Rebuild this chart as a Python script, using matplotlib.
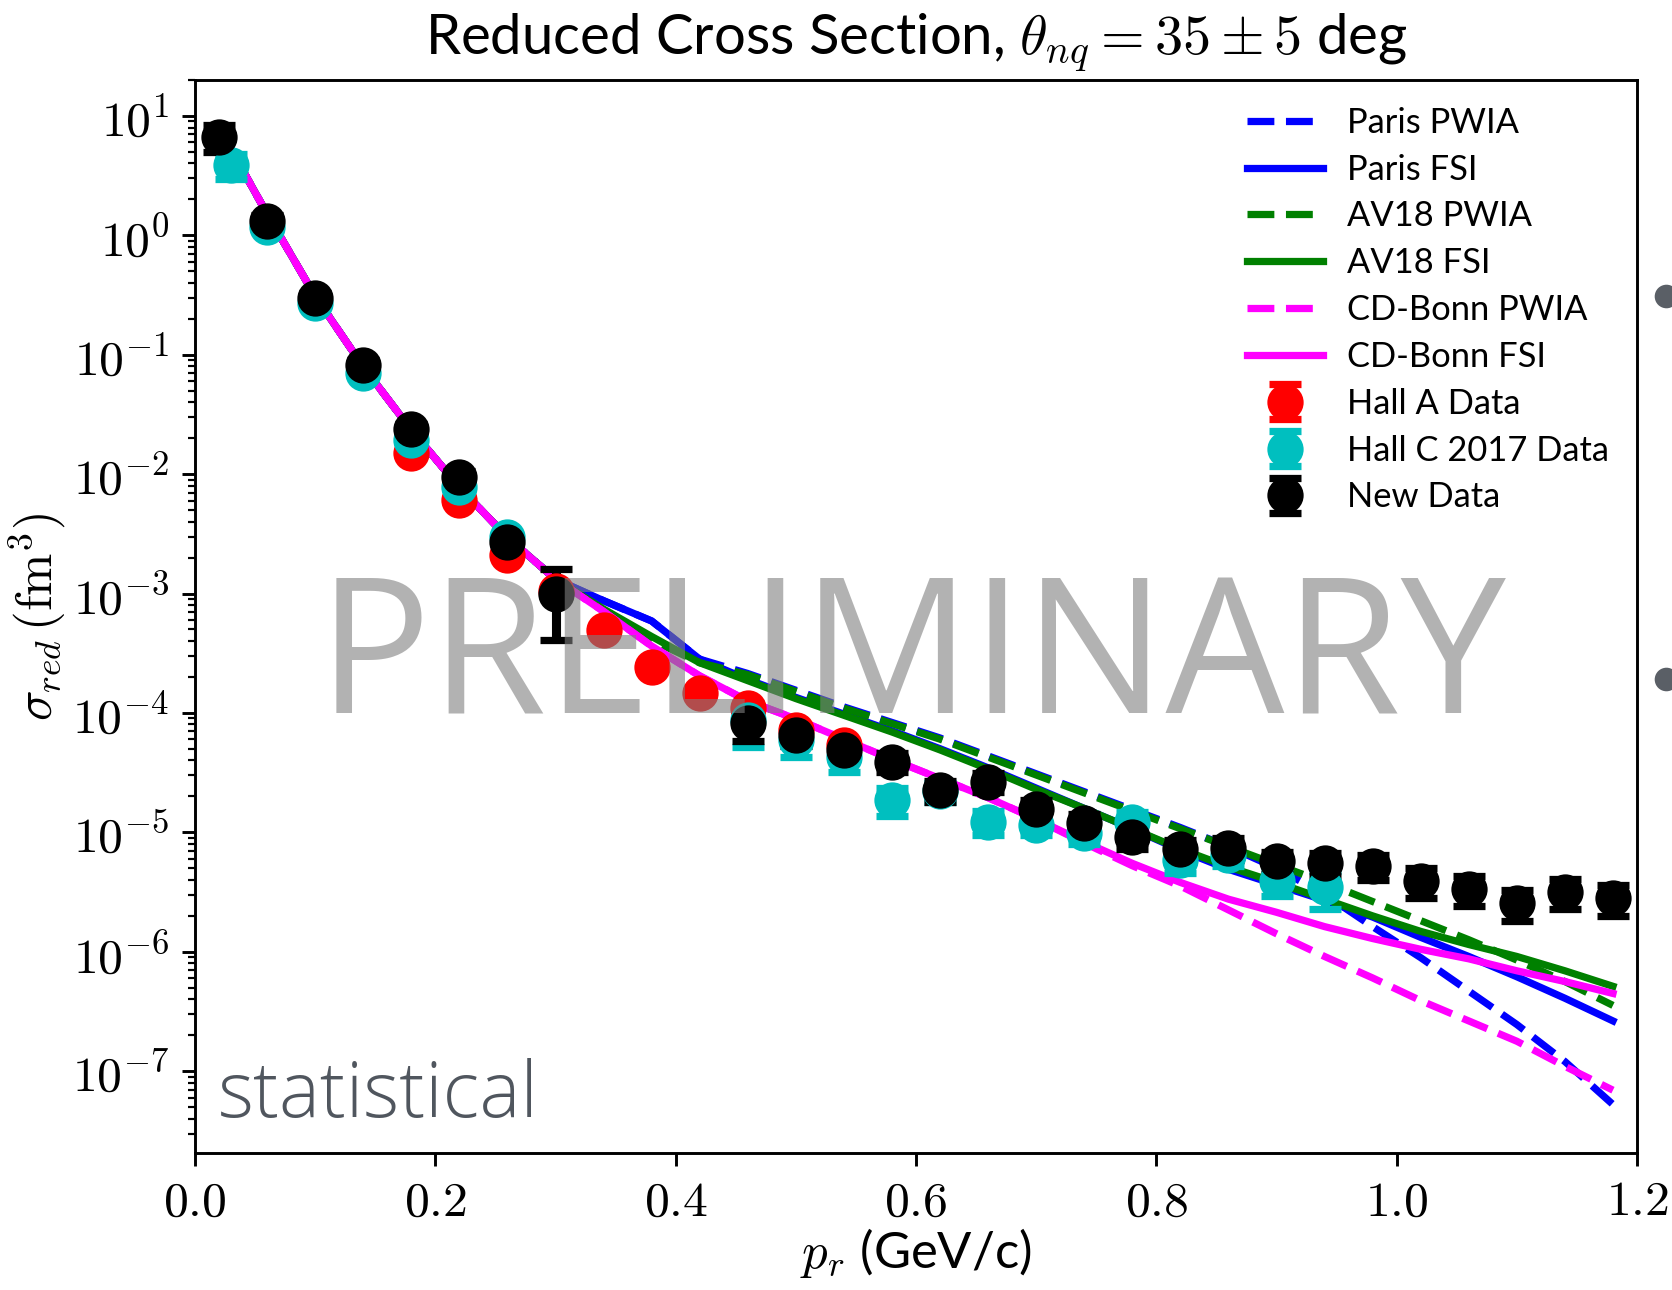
from matplotlib import pyplot as plt
from matplotlib.ticker import FuncFormatter, LogLocator, NullFormatter
from matplotlib.lines import Line2D
import numpy as np

plt.rcParams.update({'font.family': 'Lato', 'mathtext.fontset': 'cm', 'font.size': 14})

# theory curves: log10(sigma_red)
x_th = [0.02, 0.06, 0.10, 0.14, 0.18, 0.22, 0.26, 0.30, 0.34, 0.38, 0.42, 0.46, 0.50,
        0.54, 0.58, 0.62, 0.66, 0.70, 0.74, 0.78, 0.82, 0.86, 0.90, 0.94, 0.98, 1.02,
        1.06, 1.10, 1.14, 1.18]
low = [0.90, 0.18, -0.51, -1.10, -1.63, -2.11, -2.53, -2.88]
paris_pwia = low + [-3.06, -3.23, -3.55, -3.67, -3.81, -3.95, -4.08, -4.21, -4.36, -4.51, -4.66,
                    -4.81, -4.96, -5.12, -5.30, -5.52, -5.79, -6.05, -6.33, -6.61, -6.92, -7.28]
paris_fsi = low + [-3.06, -3.23, -3.55, -3.72, -3.87, -4.01, -4.15, -4.30, -4.46, -4.63, -4.80,
                   -4.97, -5.15, -5.31, -5.44, -5.57, -5.71, -5.88, -6.04, -6.21, -6.39, -6.58]
av18_pwia = low + [-3.14, -3.39, -3.58, -3.68, -3.82, -3.96, -4.09, -4.22, -4.37, -4.52, -4.67,
                   -4.82, -4.97, -5.12, -5.27, -5.42, -5.58, -5.74, -5.90, -6.07, -6.25, -6.45]
av18_fsi = low + [-3.13, -3.36, -3.58, -3.73, -3.88, -4.02, -4.16, -4.31, -4.47, -4.64, -4.80,
                  -4.97, -5.14, -5.29, -5.42, -5.56, -5.70, -5.83, -5.94, -6.04, -6.16, -6.29]
cdb_pwia = low + [-3.15, -3.44, -3.69, -3.90, -4.05, -4.22, -4.39, -4.55, -4.71, -4.89, -5.09,
                  -5.28, -5.45, -5.65, -5.85, -6.04, -6.22, -6.41, -6.58, -6.75, -6.96, -7.16]
cdb_fsi = low + [-3.15, -3.44, -3.69, -3.90, -4.05, -4.22, -4.39, -4.55, -4.71, -4.89, -5.08,
                 -5.26, -5.42, -5.56, -5.67, -5.79, -5.89, -5.98, -6.06, -6.16, -6.25, -6.35]

# data
halla_x = [0.18, 0.22, 0.26, 0.30, 0.34, 0.38, 0.42, 0.46, 0.50, 0.54]
halla_y = [0.0150, 0.00608, 0.0021, 1.05e-3, 4.9e-4, 2.44e-4, 1.46e-4, 1.09e-4, 7.2e-5, 5.4e-5]
halla_err = [0.0007, 0.0003, 0.0001, 5e-5, 2.5e-5, 1.2e-5, 8e-6, 6e-6, 4e-6, 3e-6]

hallc_x = [0.03, 0.06, 0.10, 0.14, 0.18, 0.22, 0.26, 0.46, 0.50, 0.54, 0.58, 0.62, 0.66, 0.70,
           0.74, 0.78, 0.82, 0.86, 0.90, 0.94]
hallc_y = [3.89, 1.18, 0.27, 0.070, 0.0193, 0.00787, 0.0030, 8.7e-5, 5.9e-5, 4.3e-5, 1.87e-5,
           2.2e-5, 1.23e-5, 1.15e-5, 9.8e-6, 1.23e-5, 5.9e-6, 6.5e-6, 3.9e-6, 3.5e-6]
hallc_err = [0.95, 0.05, 0.01, 0.003, 0.0009, 0.0004, 0.00015, 3.5e-5, 1.66e-5, 1.07e-5, 5e-6,
             4e-6, 2.8e-6, 2e-6, 1.8e-6, 2.5e-6, 1.3e-6, 1.3e-6, 1.0e-6, 1.2e-6]

new_x = [0.02, 0.06, 0.10, 0.14, 0.18, 0.22, 0.26, 0.30, 0.46, 0.50, 0.54, 0.58, 0.62, 0.66,
         0.70, 0.74, 0.78, 0.82, 0.86, 0.90, 0.94, 0.98, 1.02, 1.06, 1.10, 1.14, 1.18]
new_y = [6.7, 1.33, 0.297, 0.0822, 0.0238, 0.00953, 0.00272, 1.0e-3, 8.2e-5, 6.5e-5, 4.9e-5,
         3.9e-5, 2.26e-5, 2.66e-5, 1.58e-5, 1.19e-5, 9.1e-6, 7.2e-6, 7.4e-6, 5.7e-6, 5.5e-6,
         5.2e-6, 3.92e-6, 3.36e-6, 2.55e-6, 3.19e-6, 2.8e-6]
new_err = [1.7, 0.15, 0.03, 0.008, 0.0025, 0.001, 0.0003, 5.9e-4, 2.4e-5, 1.2e-5, 9e-6, 7e-6,
           4.5e-6, 5e-6, 3e-6, 2.4e-6, 1.8e-6, 1.5e-6, 1.5e-6, 1.2e-6, 1.2e-6, 1.2e-6, 1.1e-6,
           0.95e-6, 0.75e-6, 0.9e-6, 0.8e-6]

fig = plt.figure(figsize=(6.4, 1290 / 261.25), dpi=261.25)
ax = fig.add_axes([195 / 1672, 1 - 1153 / 1290, 1442 / 1672, 1073 / 1290])

xt = np.array(x_th)
ax.plot(xt, 10 ** np.array(paris_pwia), '--', color='blue', lw=2, label='Paris PWIA')
ax.plot(xt, 10 ** np.array(paris_fsi), '-', color='blue', lw=2, label='Paris FSI')
ax.plot(xt, 10 ** np.array(av18_pwia), '--', color='green', lw=2, label='AV18 PWIA')
ax.plot(xt, 10 ** np.array(av18_fsi), '-', color='green', lw=2, label='AV18 FSI')
ax.plot(xt, 10 ** np.array(cdb_pwia), '--', color='magenta', lw=2, label='CD-Bonn PWIA')
ax.plot(xt, 10 ** np.array(cdb_fsi), '-', color='magenta', lw=2, label='CD-Bonn FSI')

eb = dict(fmt='o', ms=9, capsize=4.5, capthick=2, elinewidth=2.5)
ax.errorbar(halla_x, halla_y, yerr=halla_err, color='red', label='Hall A Data', **eb)
ax.errorbar(hallc_x, hallc_y, yerr=hallc_err, color='c', label='Hall C 2017 Data', **eb)
ax.errorbar(new_x, new_y, yerr=new_err, color='black', label='New Data', **eb)

ax.set_yscale('log')
ax.set_xlim(0, 1.2)
ax.set_ylim(2.06e-8, 20)
ax.set_xticks([0.0, 0.2, 0.4, 0.6, 0.8, 1.0, 1.2])
ax.xaxis.set_major_formatter(FuncFormatter(lambda v, p: r'$%.1f$' % v))
ax.yaxis.set_major_locator(LogLocator(base=10, numticks=20))
ax.yaxis.set_minor_locator(LogLocator(base=10, subs=range(2, 10), numticks=20))
ax.yaxis.set_minor_formatter(NullFormatter())
ax.yaxis.set_major_formatter(FuncFormatter(lambda v, p: r'$10^{%d}$' % round(np.log10(v))))
ax.tick_params(labelsize=13.7)

ax.set_title(r'Reduced Cross Section, $\theta_{nq} = 35 \pm 5$ deg', fontsize=15.5, pad=7)
ax.set_xlabel(r'$p_r$ (GeV/c)', fontsize=14, labelpad=0.5)
ax.set_ylabel(r'$\sigma_{red}\,(\mathrm{fm}^3)$', fontsize=14, labelpad=1)

ax.legend(loc='upper left', bbox_to_anchor=(0.7295, 0.975), frameon=False, fontsize=9.5,
          borderpad=0, borderaxespad=0, handlelength=2.2, handletextpad=0.7, labelspacing=0.43)

# overlay texts from the slide
fig.text(912 / 1672, 1 - 714 / 1290, 'PRELIMINARY', family='Open Sans', fontsize=51.9,
         color='gray', alpha=0.6, ha='center', va='baseline')
fig.text(218 / 1672, 1 - 1117 / 1290, 'statistical', family='Open Sans', fontweight='light',
         fontsize=21.3, color='#50565e', ha='left', va='baseline')
for yb in [296, 679]:
    fig.add_artist(Line2D([1666 / 1672], [1 - yb / 1290], marker='o', ms=5.5,
                          color='#5a5f66', transform=fig.transFigure))

fig.savefig('out.png', dpi=261.25)
